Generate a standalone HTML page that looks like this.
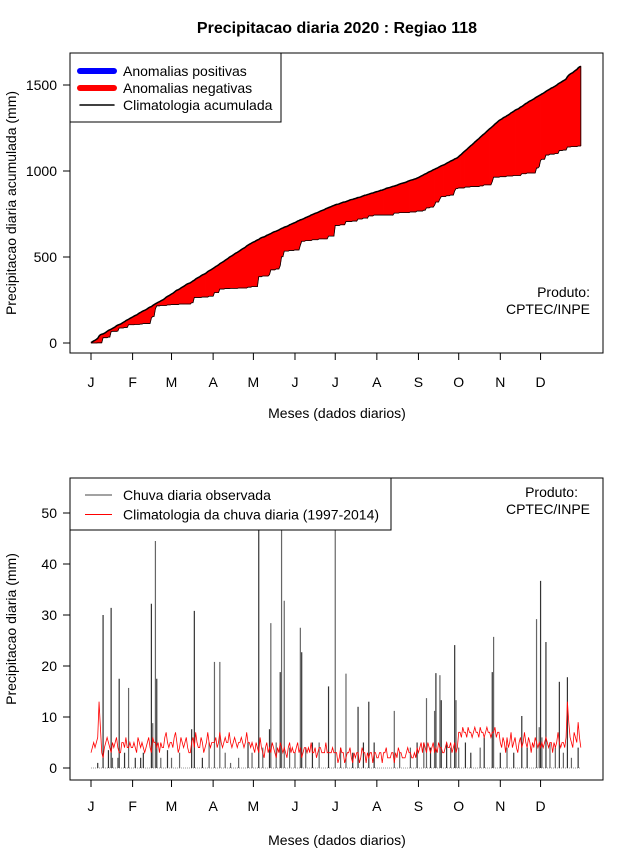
<!DOCTYPE html>
<html><head><meta charset="utf-8"><style>
body{margin:0;background:#fff;}
svg text{font-family:"Liberation Sans",sans-serif;fill:#000;}
</style></head><body>
<svg id="c" width="640" height="850" viewBox="0 0 640 850" xmlns="http://www.w3.org/2000/svg"></svg>
<script>
const months = ["J","F","M","A","M","J","J","A","S","O","N","D"];
const monthStartDays = [0,31,60,91,121,152,182,213,244,274,305,335];
const topTicks = [0,500,1000,1500];
const bottomTicks = [0,10,20,30,40,50];
// climatological daily rainfall (mm), by day of year 2020
const climDaily = [
3,4,5,4,5,6,13,8,3,2,4,5,6,5,4,3,5,4,5,6,4,3,3,5,5,4,6,4,4,5,4,
4,5,4,3,6,5,4,5,4,3,4,5,6,4,3,6,5,5,4,5,3,5,4,4,6,7,5,4,5,
5,4,6,7,5,3,4,6,5,4,5,6,4,3,3,5,6,4,7,5,4,4,6,5,3,4,5,7,5,4,5,
5,5,6,4,5,7,5,4,5,6,5,5,7,5,4,5,6,5,4,5,5,6,5,4,5,7,5,5,4,5,
4,3,5,4,3,6,4,3,2,4,5,3,4,3,5,4,3,2,4,3,5,4,3,4,3,2,4,5,3,4,3,
3,4,5,3,4,2,3,4,4,3,4,3,5,3,3,4,2,3,4,4,3,3,3,5,3,3,3,3,4,3,
3,3,1,2,4,3,3,1,2,3,3,4,2,1,3,2,3,3,1,2,4,3,3,1,3,2,3,3,1,3,3,
2,2,3,3,1,3,3,4,2,2,2,3,3,1,3,2,4,3,3,2,2,2,3,4,3,3,2,2,3,2,4,
3,4,5,3,5,4,3,5,4,3,4,5,3,4,3,5,4,4,3,3,4,5,4,4,5,3,4,5,3,4,
7,7,6,8,7,7,6,8,7,7,6,7,8,7,7,6,8,7,7,6,7,8,7,7,6,7,7,8,6,7,7,
5,4,6,5,3,6,4,5,7,4,5,6,4,3,5,6,4,5,7,5,4,6,5,3,5,4,6,5,4,5,
4,5,4,5,6,5,4,5,5,3,5,4,5,7,5,4,5,5,4,6,13,9,6,5,4,7,6,5,9,6,4];
// observed rain events: day index and amount (mm)
const obsDays = [5,9,13,15,16,20,21,25,28,33,37,39,45,46,48,49,52,57,60,66,75,77,83,88,92,96,100,104,110,117,
120,125,128,133,134,138,141,142,144,148,152,156,157,160,165,170,177,182,186,190,195,199,203,207,211,
226,230,238,243,248,250,253,256,257,260,261,265,268,271,272,274,279,283,290,293,299,300,305,310,315,321,325,
332,334,335,336,339,342,346,349,352,355,358,363];
const obsVals = [1,30,3.5,31.4,2,2,17.5,3,15.7,2,2,3,32.2,8.8,44.5,17.5,2,3.5,2,3,7.6,30.8,2,5,20.8,20.8,3,1,2,5,
3,58,4,7.6,28.4,5,18.8,52,32.8,4,3,27.5,22.7,4,5,5,16,62,4,18.5,3,12,5,13,5,
11.2,3,4,5,5,13.7,4,11.2,18.6,18.2,13.3,5,4,24.1,13.3,4,5,3,4,6,18.8,25.7,3,4,3,10.2,4,
29.2,8,36.7,6,24.7,5,4,16.9,3,17.8,2,4];

const NS="http://www.w3.org/2000/svg";
const svg=document.getElementById('c');
function mk(tag,attrs,parent){const e=document.createElementNS(NS,tag);for(const k in attrs)e.setAttribute(k,attrs[k]);(parent||svg).appendChild(e);return e;}
function txt(s,x,y,attrs){const e=mk('text',Object.assign({x:x,y:y,'font-size':14},attrs||{}));e.textContent=s;return e;}

const N=climDaily.length;
const obsDaily=new Array(N).fill(0);
obsDays.forEach((d,i)=>{obsDaily[d]+=obsVals[i];});
const climCum=[],obsCum=[];let accA=0,accB=0;
for(let i=0;i<N;i++){accA+=climDaily[i];accB+=obsDaily[i];climCum.push(accA);obsCum.push(accB);}

const X=d=>91+d*1.342;
const Y1=v=>343-v*0.172;
const Y2=v=>768-v*5.1;

let ttl=txt("Precipitacao diaria 2020 : Regiao 118",337,33,{'text-anchor':'middle','font-weight':'bold','font-size':16});



function xAxis(yBox,yLab,yTitle,prefix){
  const g=mk('g',{});
  
  
  mk('line',{x1:X(0),x2:X(monthStartDays[11]),y1:yBox,y2:yBox,stroke:'#000'},g);
  months.forEach((m,i)=>{const x=X(monthStartDays[i]);
    mk('line',{x1:x,x2:x,y1:yBox,y2:yBox+7,stroke:'#000'},g);
    const l=txt(m,x,yLab,{'text-anchor':'middle'});g.appendChild(l);
    
    });
  const tt=txt("Meses (dados diarios)",337,yTitle,{'text-anchor':'middle'});
  
  
}
function yAxis(ticks,Y,titleStr,cy,prefix){
  const g=mk('g',{});
  
  
  mk('line',{x1:70,x2:70,y1:Y(ticks[0]),y2:Y(ticks[ticks.length-1]),stroke:'#000'},g);
  ticks.forEach(v=>{mk('line',{x1:63,x2:70,y1:Y(v),y2:Y(v),stroke:'#000'},g);
    const l=txt(String(v),57,Y(v)+5,{'text-anchor':'end'});g.appendChild(l);
    
    });
  const tt=txt(titleStr,0,0,{'text-anchor':'middle',transform:`translate(16,${cy}) rotate(-90)`});
  
  
}

// ---------- TOP CHART ----------
const topG=mk('g',{});


for(let i=0;i<N-1;i++){
  const col=(obsCum[i]+obsCum[i+1]>=climCum[i]+climCum[i+1])?'#0000ff':'#ff0000';
  const p=mk('polygon',{points:`${X(i)},${Y1(climCum[i])} ${X(i+1)},${Y1(climCum[i+1])} ${X(i+1)},${Y1(obsCum[i+1])} ${X(i)},${Y1(obsCum[i])}`,fill:col,stroke:col,'stroke-width':0.6},topG);
  
  
}
let pc='',po='';
for(let i=0;i<N;i++){pc+=`${X(i)},${Y1(climCum[i])} `;po+=`${X(i)},${Y1(obsCum[i])} `;}
let ol=mk('polyline',{points:po,fill:'none',stroke:'#000','stroke-width':0.8},topG);


let cl=mk('polyline',{points:pc,fill:'none',stroke:'#000','stroke-width':1.5},topG);


mk('line',{x1:X(N-1),x2:X(N-1),y1:Y1(climCum[N-1]),y2:Y1(obsCum[N-1]),stroke:'#000','stroke-width':0.8},topG);
let box1=mk('rect',{x:70,y:53,width:533,height:300,fill:'none',stroke:'#000'});


yAxis(topTicks,Y1,"Precipitacao diaria acumulada (mm)",203,'top');
xAxis(353,387,418,'top');
const lg=mk('g',{});


mk('rect',{x:70,y:53,width:211,height:69,fill:'#fff',stroke:'#000'},lg);
[["Anomalias positivas","#0000ff",6],["Anomalias negativas","#ff0000",6],["Climatologia acumulada","#000",1.5]].forEach((e,i)=>{
  const y=71+i*17;const it=mk('g',{},lg);
  
  
  mk('line',{x1:80,x2:114,y1:y,y2:y,stroke:e[1],'stroke-width':e[2],'stroke-linecap':'round'},it);
  it.appendChild(txt(e[0],123,y+5));
});
let p1=txt("Produto:",590,297,{'text-anchor':'end'});


txt("CPTEC/INPE",590,314,{'text-anchor':'end'});

// ---------- BOTTOM CHART ----------
const clip=mk('clipPath',{id:'cb'});
mk('rect',{x:70,y:478,width:533,height:302},clip);
const bot=mk('g',{'clip-path':'url(#cb)'});


mk('line',{x1:X(0),x2:X(N-1),y1:Y2(0),y2:Y2(0),stroke:'#999','stroke-width':1,'stroke-dasharray':'1,1'},bot);
for(let i=0;i<N;i++){if(obsDaily[i]>0){
  const l=mk('line',{x1:X(i),x2:X(i),y1:Y2(0),y2:Y2(obsDaily[i]),stroke:(i%2?'#333':'#666'),'stroke-width':1.2},bot);
  
  }}
let pr='';for(let i=0;i<N;i++)pr+=`${X(i)},${Y2(climDaily[i])} `;
let rl=mk('polyline',{points:pr,fill:'none',stroke:'#ff0000','stroke-width':0.8},bot);


let box2=mk('rect',{x:70,y:478,width:533,height:302,fill:'none',stroke:'#000'});


yAxis(bottomTicks,Y2,"Precipitacao diaria (mm)",629,'bottom');
xAxis(780,811,845,'bottom');
const lg2=mk('g',{});


mk('rect',{x:70,y:478,width:321,height:52,fill:'#fff',stroke:'#000'},lg2);
[["Chuva diaria observada","#444"],["Climatologia da chuva diaria (1997-2014)","#ff0000"]].forEach((e,i)=>{
  const y=495+i*19.5;const it=mk('g',{},lg2);
  
  
  mk('line',{x1:85,x2:112,y1:y,y2:y,stroke:e[1],'stroke-width':1},it);
  it.appendChild(txt(e[0],123,y+5));
});
let p2=txt("Produto:",578,497,{'text-anchor':'end'});


txt("CPTEC/INPE",590,514,{'text-anchor':'end'});
</script>
</body></html>
